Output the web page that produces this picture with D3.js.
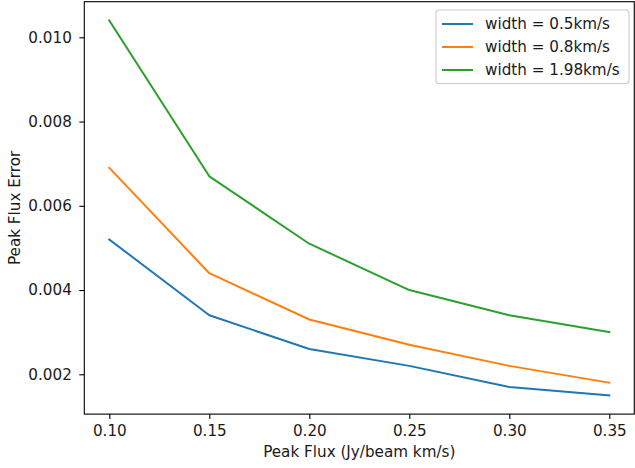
<!DOCTYPE html>
<html>
<head>
<meta charset="utf-8">
<script src="https://cdn.jsdelivr.net/npm/d3@7"></script>
<style>
  html, body { margin: 0; padding: 0; background: #fff; }
  svg { display: block; font-family: "DejaVu Sans", sans-serif; }
</style>
</head>
<body>
<svg id="chart" width="635" height="468"></svg>
<script>
// Peak flux values (Jy/beam km/s)
const peakFlux = [0.10, 0.15, 0.20, 0.25, 0.30, 0.35];

// Peak flux error for each line width
const errWidth05  = [0.0052, 0.0034, 0.0026, 0.0022, 0.0017, 0.0015];
const errWidth08  = [0.0069, 0.0044, 0.0033, 0.0027, 0.0022, 0.0018];
const errWidth198 = [0.0104, 0.0067, 0.0051, 0.0040, 0.0034, 0.0030];

const seriesLabels = ["width = 0.5km/s", "width = 0.8km/s", "width = 1.98km/s"];
const seriesColors = ["#1f77b4", "#ff7f0e", "#2ca02c"];

const xTicks = [0.10, 0.15, 0.20, 0.25, 0.30, 0.35];
const yTicks = [0.002, 0.004, 0.006, 0.008, 0.010];

const series = [errWidth05, errWidth08, errWidth198].map((vals, i) => ({
  label: seriesLabels[i],
  color: seriesColors[i],
  points: vals.map((v, j) => ({ x: peakFlux[j], y: v }))
}));

const svg = d3.select("#chart");
const plot = { left: 84.3, right: 634.3, top: 1.7, bottom: 414.1 };

// Autoscaled limits with 5% margins on each side
const xExt = d3.extent(peakFlux);
const allY = [].concat(errWidth05, errWidth08, errWidth198);
const yExt = d3.extent(allY);
const xPad = (xExt[1] - xExt[0]) * 0.05;
const yPad = (yExt[1] - yExt[0]) * 0.05;

const x = d3.scaleLinear()
  .domain([xExt[0] - xPad, xExt[1] + xPad])
  .range([plot.left, plot.right]);
const y = d3.scaleLinear()
  .domain([yExt[0] - yPad, yExt[1] + yPad])
  .range([plot.bottom, plot.top]);

const fontSize = 15.2;
const textColor = "#1a1a1a";

// Lines
const line = d3.line().x(d => x(d.x)).y(d => y(d.y));
svg.append("g").selectAll("path")
  .data(series)
  .join("path")
  .attr("d", d => line(d.points))
  .attr("fill", "none")
  .attr("stroke", d => d.color)
  .attr("stroke-width", 2)
  .attr("stroke-linejoin", "round")
  .attr("stroke-linecap", "square");

// Axes
const xAxis = d3.axisBottom(x).tickValues(xTicks).tickFormat(d3.format(".2f"))
  .tickSizeInner(5).tickSizeOuter(0).tickPadding(6.5);
const yAxis = d3.axisLeft(y).tickValues(yTicks).tickFormat(d3.format(".3f"))
  .tickSizeInner(5).tickSizeOuter(0).tickPadding(7.5);

const gx = svg.append("g").attr("transform", `translate(0,${plot.bottom})`).call(xAxis);
const gy = svg.append("g").attr("transform", `translate(${plot.left},0)`).call(yAxis);
[gx, gy].forEach(g => {
  g.select(".domain").remove();
  g.selectAll(".tick line").attr("stroke", "#000").attr("stroke-width", 1.1);
  g.selectAll(".tick text")
    .attr("fill", textColor)
    .style("font-size", fontSize + "px")
    .style("font-family", "DejaVu Sans");
});

// Frame (spines)
svg.append("rect")
  .attr("x", plot.left)
  .attr("y", plot.top)
  .attr("width", plot.right - plot.left)
  .attr("height", plot.bottom - plot.top)
  .attr("fill", "none")
  .attr("stroke", "#000")
  .attr("stroke-width", 1.1);

// Axis titles
svg.append("text")
  .attr("x", (plot.left + plot.right) / 2)
  .attr("y", 457)
  .attr("text-anchor", "middle")
  .attr("fill", textColor)
  .style("font-size", fontSize + "px")
  .text("Peak Flux (Jy/beam km/s)");

svg.append("text")
  .attr("transform", `translate(20,${(plot.top + plot.bottom) / 2}) rotate(-90)`)
  .attr("text-anchor", "middle")
  .attr("fill", textColor)
  .style("font-size", fontSize + "px")
  .text("Peak Flux Error");

// Legend
const legend = svg.append("g").attr("transform", "translate(436,10)");
legend.append("rect")
  .attr("width", 193)
  .attr("height", 73.5)
  .attr("rx", 3)
  .attr("fill", "#fff")
  .attr("fill-opacity", 0.8)
  .attr("stroke", "#cccccc")
  .attr("stroke-width", 1.1);

const items = legend.selectAll("g.item")
  .data(series)
  .join("g")
  .attr("class", "item")
  .attr("transform", (d, i) => `translate(0,${14 + i * 23})`);
items.append("line")
  .attr("x1", 6).attr("x2", 37)
  .attr("stroke", d => d.color)
  .attr("stroke-width", 2);
items.append("text")
  .attr("x", 49)
  .attr("dy", "0.36em")
  .attr("fill", textColor)
  .style("font-size", fontSize + "px")
  .text(d => d.label);
</script>
</body>
</html>
